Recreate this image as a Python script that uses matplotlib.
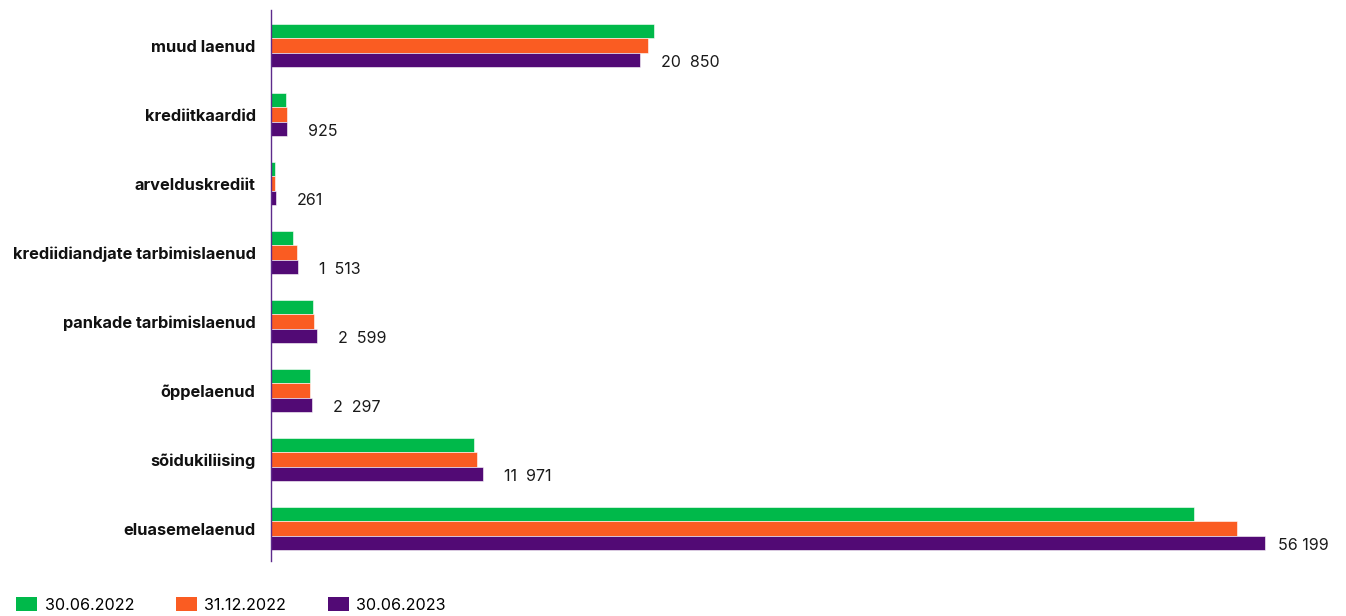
import matplotlib
matplotlib.use("Agg")
import matplotlib.pyplot as plt
import numpy as np
from matplotlib.patches import Patch

categories = ["muud laenud", "krediitkaardid", "arvelduskrediit",
              "krediidiandjate tarbimislaenud", "pankade tarbimislaenud",
              "õppelaenud", "sõidukiliising", "eluasemelaenud"]
series_names = ["30.06.2022", "31.12.2022", "30.06.2023"]
v_2022_06 = [21650, 850, 230, 1260, 2400, 2180, 11480, 52180]
v_2022_12 = [21310, 900, 250, 1480, 2420, 2200, 11650, 54610]
v_2023_06 = [20850, 925, 261, 1513, 2599, 2297, 11971, 56199]
value_labels = ["20  850", "925", "261", "1  513", "2  599", "2  297", "11  971", "56 199"]

colors = ["#00B94A", "#FA5C22", "#520A75"]
spine_color = "#5E2B8C"

plt.rcParams['font.family'] = ['Inter', 'DejaVu Sans']

fig = plt.figure(figsize=(13.46, 6.16), dpi=100)
ax = fig.add_axes([271/1346, 1-561/616, (1300-271)/1346, (561-10)/616])

n = len(categories)
y = np.arange(n)[::-1].astype(float)  # muud laenud at top
h = 0.21
series = [v_2022_06, v_2022_12, v_2023_06]
for i, (vals, c) in enumerate(zip(series, colors)):
    ax.barh(y + (1 - i) * h, vals, height=h, color=c, edgecolor='white', linewidth=0.4)

for yi, v, lab, k in zip(y, v_2023_06, value_labels, range(n)):
    off = 13 if k == n - 1 else 21
    ax.annotate(lab, xy=(v, yi - h), xytext=(off, -2), textcoords='offset pixels',
                ha='left', va='center', fontsize=11.5, color='#1a1a1a',
                annotation_clip=False)

xmax = (1300 - 271) / (994 / 56199)
ax.set_xlim(0, xmax)
ax.set_ylim(-0.47, 7.515)
ax.set_yticks(y)
ax.set_yticklabels(categories, fontsize=11.8, fontweight='bold', color='#111111')
ax.tick_params(axis='y', length=0, pad=11)
ax.set_xticks([])
for s in ['top', 'right', 'bottom']:
    ax.spines[s].set_visible(False)
ax.spines['left'].set_color(spine_color)
ax.spines['left'].set_linewidth(1.0)

handles = [Patch(facecolor=c, edgecolor='none') for c in colors]
fig.legend(handles, series_names, loc='lower left', bbox_to_anchor=(10/1346, -3/616),
           ncol=3, frameon=False, fontsize=11.6, handlelength=1.3, handleheight=0.95,
           handletextpad=0.45, columnspacing=2.6, borderaxespad=0)

fig.savefig("out.png", dpi=100)
